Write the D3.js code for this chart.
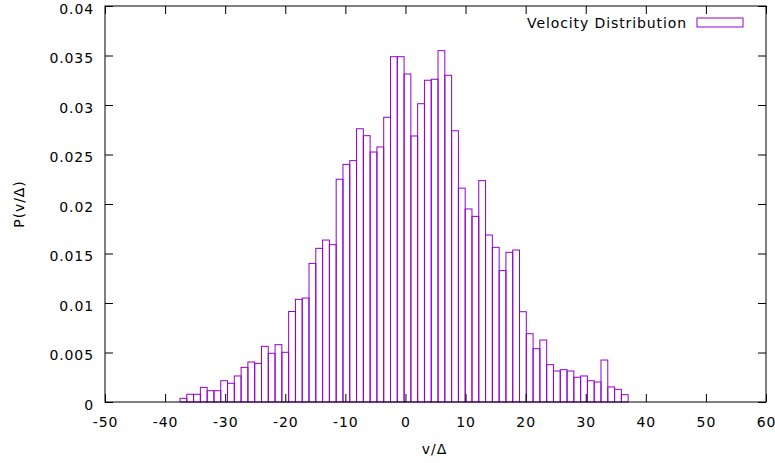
<!DOCTYPE html>
<html><head><meta charset="utf-8">
<script src="https://cdn.jsdelivr.net/npm/d3@7"></script>
<style>
body{margin:0;background:#fff;}
svg text{font-family:"DejaVu Sans",sans-serif;fill:#000;font-size:14px;letter-spacing:0.9px;}
</style></head>
<body><svg id="c" width="775" height="463"></svg>
<script>
const binStart = -37.52;
const binWidth = 1.13;
const density = [
 0.00037,0.00078,0.00078,0.00148,0.00114,0.00114,0.00215,0.00189,0.00263,0.0035,
 0.00404,0.0039,0.00562,0.00492,0.00579,0.00502,0.00914,0.01037,0.0105,0.0140,
 0.01552,0.01636,0.01589,0.0225,0.0240,0.02438,0.0276,0.0269,0.02525,0.02576,
 0.02876,0.03488,0.03488,0.03313,0.02687,0.03013,0.0325,0.0326,0.03549,0.033,
 0.0274,0.0216,0.0195,0.01875,0.02236,0.01687,0.01562,0.01327,0.01512,0.01535,
 0.00912,0.0069,0.00539,0.00626,0.00377,0.00313,0.00327,0.00313,0.0025,0.00263,
 0.00215,0.00202,0.00424,0.00152,0.00128,0.00074
];
const xTicks = [-50,-40,-30,-20,-10,0,10,20,30,40,50,60];
const yTicks = [0,0.005,0.01,0.015,0.02,0.025,0.03,0.035,0.04];
const seriesName = "Velocity Distribution";
const xLabel = "v/Δ", yLabel = "P(v/Δ)";

const svg = d3.select("#c");
const L=105,R=766,T=6,B=402;
const x = d3.scaleLinear().domain([-50,60]).range([L,R]);
const y = d3.scaleLinear().domain([0,0.04]).range([B,T]);
const col = "#9400d3";
const tk = 8;

// bars
svg.append("g").selectAll("rect").data(density).join("rect")
  .attr("x",(d,i)=>x(binStart+i*binWidth))
  .attr("y",d=>y(d))
  .attr("width",x(binWidth)-x(0))
  .attr("height",d=>y(0)-y(d))
  .attr("fill","none").attr("stroke",col).attr("stroke-width",1);

// axes (ticks inward, mirrored)
const fmt = d=>String(+d.toFixed(3));
const gb = svg.append("g").attr("transform",`translate(0,${B})`)
  .call(d3.axisBottom(x).tickValues(xTicks).tickSizeInner(-tk).tickSizeOuter(0).tickFormat(d=>d));
const gt = svg.append("g").attr("transform",`translate(0,${T})`)
  .call(d3.axisTop(x).tickValues(xTicks).tickSizeInner(-tk).tickSizeOuter(0).tickFormat(""));
const gl = svg.append("g").attr("transform",`translate(${L},0)`)
  .call(d3.axisLeft(y).tickValues(yTicks).tickSizeInner(-tk).tickSizeOuter(0).tickFormat(fmt));
const gr = svg.append("g").attr("transform",`translate(${R},0)`)
  .call(d3.axisRight(y).tickValues(yTicks).tickSizeInner(-tk).tickSizeOuter(0).tickFormat(""));
[gb,gt,gl,gr].forEach(g=>{
  g.select(".domain").remove();
  g.selectAll("line").attr("stroke","#000");
  g.selectAll("text").attr("font-size",null).attr("font-family",null).attr("fill","#000");
});
gb.selectAll(".tick text").attr("y",25).attr("dy",null).attr("text-anchor","middle");
gl.selectAll(".tick text").attr("x",-11).attr("dy",null).attr("y",7.3).attr("text-anchor","end");
svg.append("rect").attr("x",L).attr("y",T).attr("width",R-L).attr("height",B-T)
  .attr("fill","none").attr("stroke","#000").attr("stroke-width",1);

// labels
svg.append("text").attr("x",(L+R)/2-1).attr("y",453.5).attr("text-anchor","middle").text(xLabel);
svg.append("text").attr("transform",`translate(24,${(T+B)/2}) rotate(-90)`)
  .attr("text-anchor","middle").text(yLabel);

// legend
svg.append("text").attr("x",687).attr("y",28).attr("text-anchor","end").text(seriesName);
svg.append("rect").attr("x",697).attr("y",18).attr("width",46).attr("height",9)
  .attr("fill","none").attr("stroke",col).attr("stroke-width",1);
</script></body></html>
